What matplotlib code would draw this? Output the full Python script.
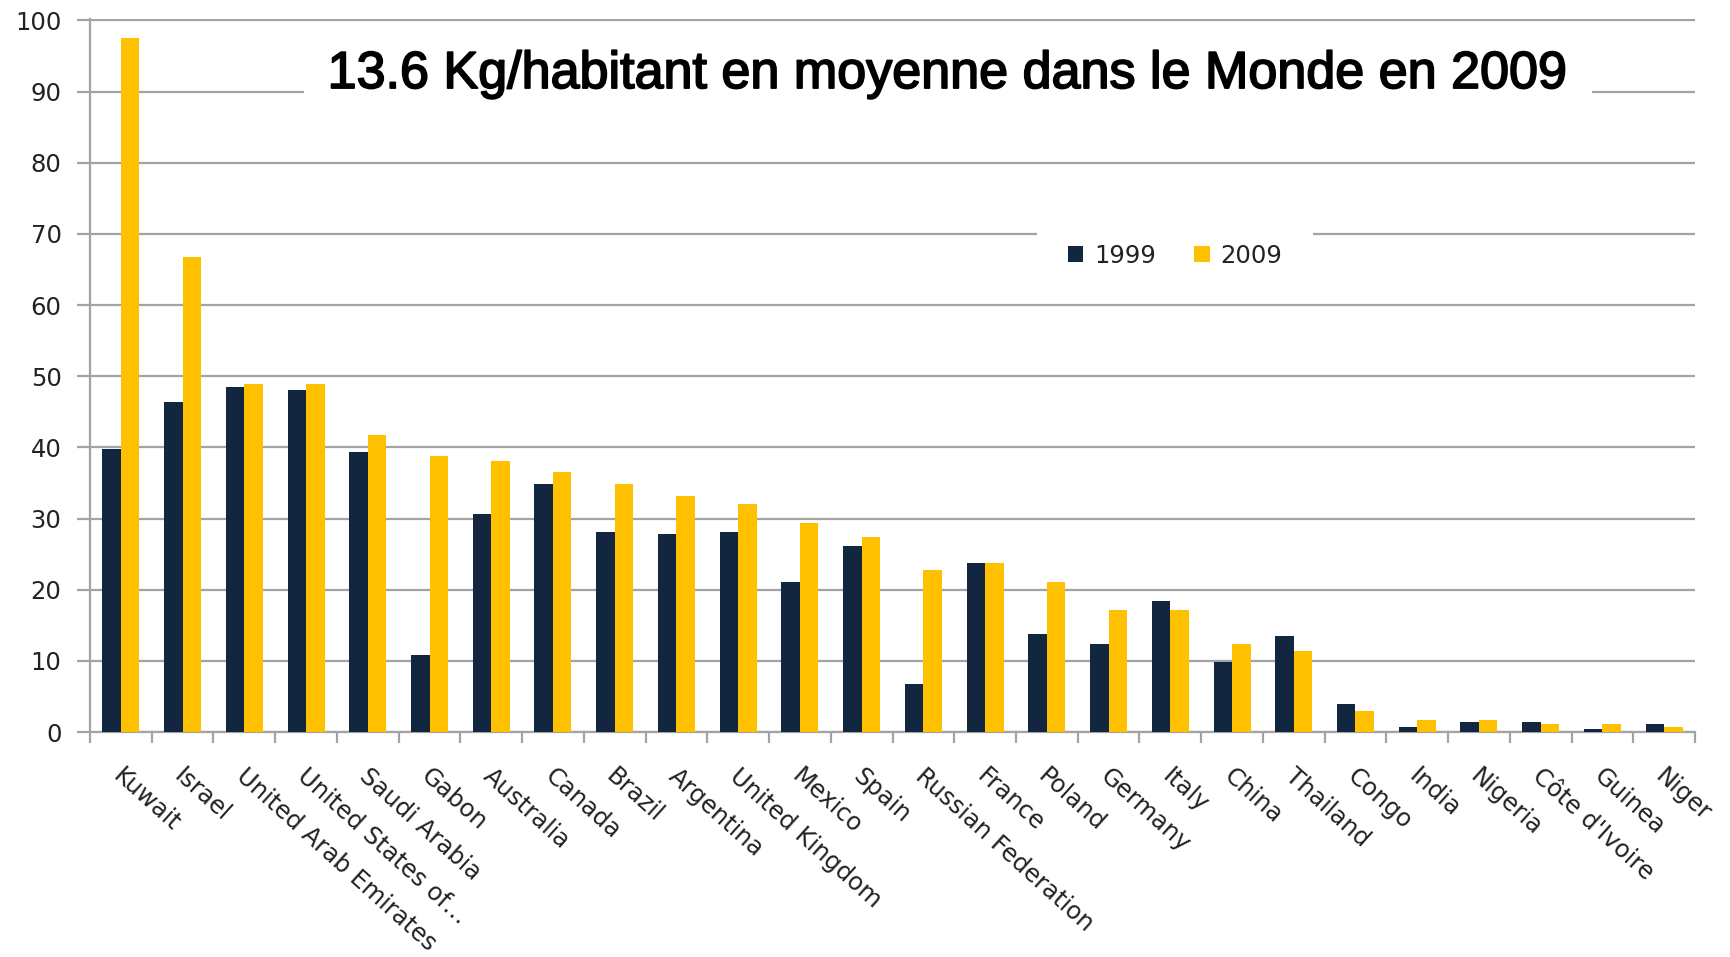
import matplotlib
matplotlib.use('Agg')
import matplotlib.pyplot as plt
import matplotlib.patheffects as pe
import numpy as np
from matplotlib.transforms import ScaledTranslation

# données (kg/habitant)
countries = ['Kuwait', 'Israel', 'United Arab Emirates', 'United States of…',
             'Saudi Arabia', 'Gabon', 'Australia', 'Canada', 'Brazil',
             'Argentina', 'United Kingdom', 'Mexico', 'Spain',
             'Russian Federation', 'France', 'Poland', 'Germany', 'Italy',
             'China', 'Thailand', 'Congo', 'India', 'Nigeria',
             "Côte d'Ivoire", 'Guinea', 'Niger']
v1999 = [39.8, 46.4, 48.5, 48.1, 39.4, 10.8, 30.7, 34.8, 28.1, 27.8, 28.1,
         21.1, 26.2, 6.8, 23.8, 13.8, 12.4, 18.4, 9.8, 13.5, 4.0, 0.7, 1.4,
         1.4, 0.4, 1.1]
v2009 = [97.5, 66.8, 48.9, 48.9, 41.8, 38.8, 38.1, 36.5, 34.8, 33.1, 32.1,
         29.4, 27.4, 22.7, 23.8, 21.1, 17.1, 17.1, 12.4, 11.4, 3.0, 1.7, 1.7,
         1.1, 1.1, 0.7]
series_labels = ['1999', '2009']
title_txt = '13.6 Kg/habitant en moyenne dans le Monde en 2009'

C_1999 = '#13263f'
C_2009 = '#ffc000'
GRID = '#a3a3a3'
TXT = '#222222'

fig = plt.figure(figsize=(17.31, 9.57), dpi=100)
ax = fig.add_axes([90 / 1731, 1 - 732 / 957, (1695 - 90) / 1731, (732 - 19) / 957])

x = np.arange(len(countries))
w = 0.3
ax.bar(x - w / 2, v1999, w, color=C_1999, label=series_labels[0], zorder=3)
ax.bar(x + w / 2, v2009, w, color=C_2009, label=series_labels[1], zorder=3)

ax.set_xlim(-0.5, len(countries) - 0.5)
ax.set_ylim(0, 100.2)
ax.set_yticks(np.arange(0, 101, 10))
ax.yaxis.grid(True, color=GRID, linewidth=1.6, zorder=0)
ax.set_axisbelow(True)

for s in ['top', 'right']:
    ax.spines[s].set_visible(False)
for s in ['left', 'bottom']:
    ax.spines[s].set_color(GRID)
    ax.spines[s].set_linewidth(1.6)

ax.tick_params(axis='y', length=9.5, width=1.6, color=GRID, pad=11,
               labelsize=17.5, labelcolor=TXT)

# étiquettes pays au centre, petites graduations aux limites
ax.set_xticks(x)
ax.set_xticks(np.arange(-0.5, len(countries), 1.0), minor=True)
ax.set_xticklabels(countries, rotation=-42, ha='left', va='top',
                   rotation_mode='anchor', fontsize=17.5, color=TXT)
ax.tick_params(axis='x', which='major', length=0, pad=23)
ax.tick_params(axis='x', which='minor', length=8, width=1.6, color=GRID)
off = ScaledTranslation(3 / 100, 0, fig.dpi_scale_trans)
for lab in ax.get_xticklabels():
    lab.set_transform(lab.get_transform() + off)

# titre dans un cadre blanc
ax.text(0.5346, 90.5 / 100.2, title_txt, transform=ax.transAxes,
        ha='center', va='baseline', fontsize=37.5, family='Liberation Sans',
        color='black', zorder=5,
        path_effects=[pe.withStroke(linewidth=1.3, foreground='black')],
        bbox=dict(boxstyle='square,pad=0.45', fc='white', ec='none'))

leg = ax.legend(loc='center', bbox_to_anchor=(0.676, 0.668), ncol=2,
                frameon=True, fancybox=False, framealpha=1, edgecolor='none',
                facecolor='white', fontsize=17.5, handlelength=0.65,
                handleheight=0.65, handletextpad=0.45, columnspacing=1.55,
                borderpad=1.25)
for t in leg.get_texts():
    t.set_color(TXT)

fig.savefig('out.png', dpi=100, facecolor='white')
